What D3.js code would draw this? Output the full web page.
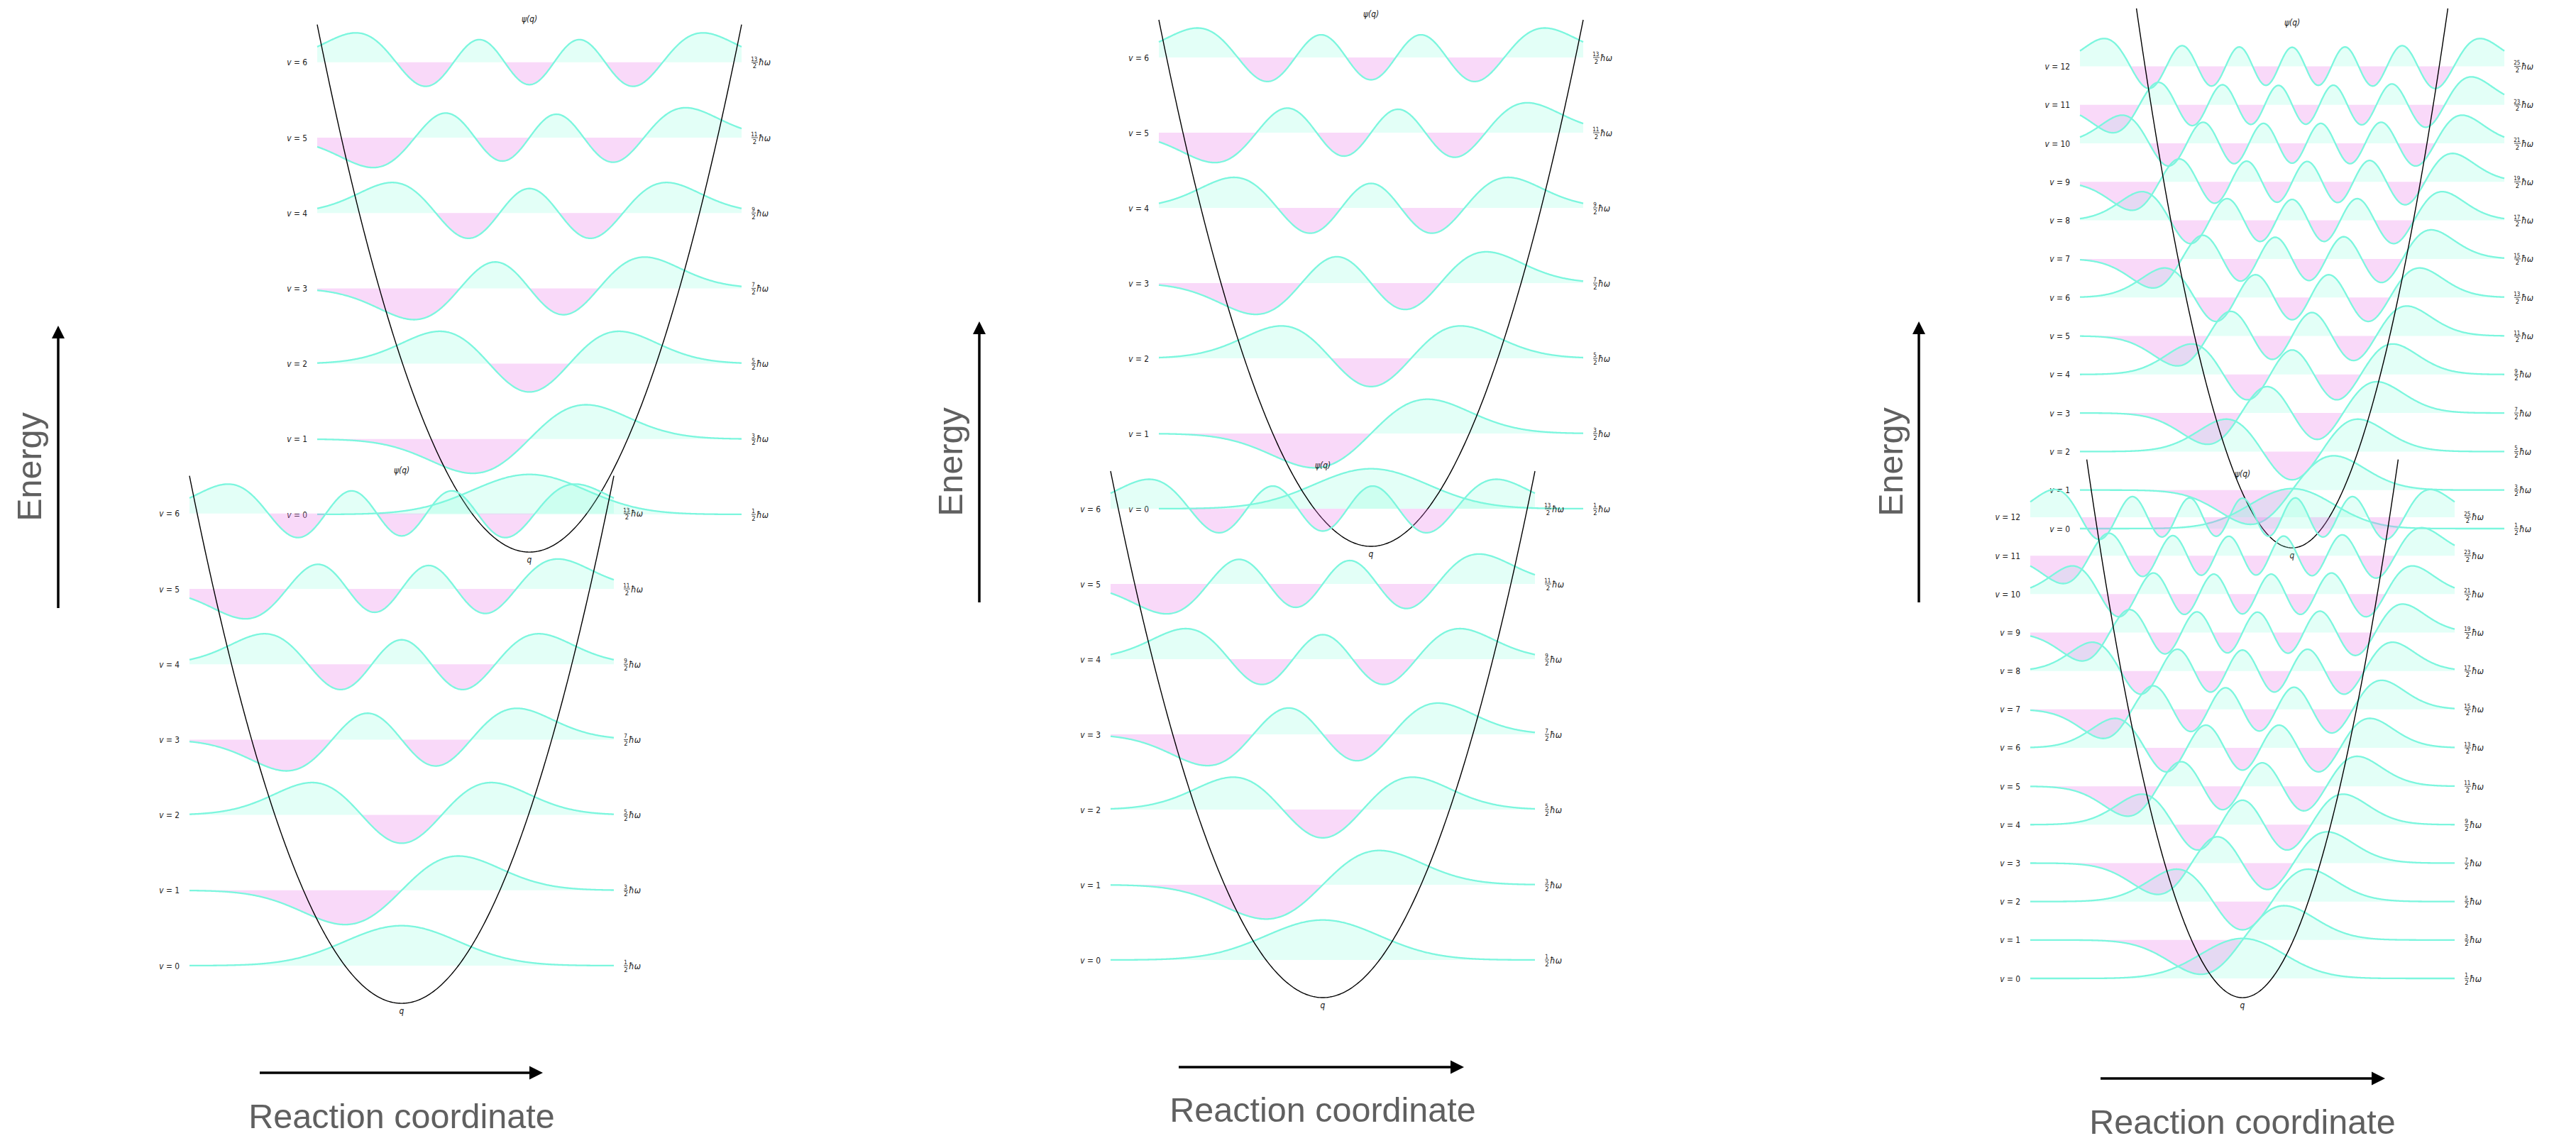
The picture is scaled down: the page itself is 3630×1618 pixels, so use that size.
<!DOCTYPE html>
<html><head><meta charset="utf-8">
<script src="https://cdn.jsdelivr.net/npm/d3@7"></script>
<style>html,body{margin:0;padding:0;background:#fff;} svg{display:block;}</style>
</head><body>
<svg id="chart" width="3630" height="1618"></svg>
<script>
// ---------------- data ----------------
const levelsSmall = [0, 1, 2, 3, 4, 5, 6];
const levelsLarge = [0, 1, 2, 3, 4, 5, 6, 7, 8, 9, 10, 11, 12];
const energyNumeratorsSmall = [1, 3, 5, 7, 9, 11, 13];
const energyNumeratorsLarge = [1, 3, 5, 7, 9, 11, 13, 15, 17, 19, 21, 23, 25];
const energyDenominator = "2";
const energyUnit = "ħω";
const levelPrefix = "v";
const plotTitle = "ψ(q)";
const coordLabel = "q";
const energyAxisLabel = "Energy";
const reactionAxisLabel = "Reaction coordinate";
const potentialQRange = [-Math.sqrt(14), Math.sqrt(14)];

// ---------------- layout (positions / sizes) ----------------
const subplots = [
  {levels: levelsSmall, nums: energyNumeratorsSmall, cx: 746,  y0: 725,  dy: 106.2, potK: 0.5},
  {levels: levelsSmall, nums: energyNumeratorsSmall, cx: 566,  y0: 1361, dy: 106.2, potK: 0.5},
  {levels: levelsSmall, nums: energyNumeratorsSmall, cx: 1932, y0: 717,  dy: 106.0, potK: 0.5},
  {levels: levelsSmall, nums: energyNumeratorsSmall, cx: 1864, y0: 1353, dy: 106.0, potK: 0.5},
  {levels: levelsLarge, nums: energyNumeratorsLarge, cx: 3230, y0: 745,  dy: 54.3,  potK: 1.0},
  {levels: levelsLarge, nums: energyNumeratorsLarge, cx: 3160, y0: 1379, dy: 54.17, potK: 1.0}
];
const panelAxes = [
  {ex: 82,   eTop: 459, eBot: 857, eText: 58,   rx0: 366,  rx1: 765,  ry: 1512, rText: 1590, rcx: 566},
  {ex: 1380, eTop: 453, eBot: 849, eText: 1356, rx0: 1661, rx1: 2063, ry: 1504, rText: 1581, rcx: 1864},
  {ex: 2704, eTop: 453, eBot: 849, eText: 2681, rx0: 2960, rx1: 3361, ry: 1520, rText: 1598, rcx: 3160}
];
const HALF_W = 299;      // px half width of q range
const AMP = 75;          // px per unit psi
const LINE = "#7cf6de";
const FILL_POS = "rgba(127,255,220,0.22)";
const FILL_NEG = "rgba(235,120,235,0.28)";
const TEXT_FONT = "'DejaVu Sans', sans-serif";

const svg = d3.select("#chart");
svg.append("rect").attr("width", 3630).attr("height", 1618).attr("fill", "#fff");

// Hermite functions (normalized harmonic oscillator eigenfunctions)
function psiAll(vmax, q) {
  const out = new Array(vmax + 1);
  out[0] = Math.pow(Math.PI, -0.25) * Math.exp(-q * q / 2);
  if (vmax >= 1) out[1] = Math.SQRT2 * q * out[0];
  for (let n = 1; n < vmax; n++) {
    out[n + 1] = Math.sqrt(2 / (n + 1)) * q * out[n] - Math.sqrt(n / (n + 1)) * out[n - 1];
  }
  return out;
}

function drawSubplot(sp) {
  const vmax = d3.max(sp.levels);
  const qmax = Math.sqrt(2 * (vmax + 1));
  const x = d3.scaleLinear().domain([-qmax, qmax]).range([sp.cx - HALF_W, sp.cx + HALF_W]);
  const y = d3.scaleLinear().domain([0.5, vmax + 0.5]).range([sp.y0, sp.y0 - vmax * sp.dy]);
  const amp = d3.scaleLinear().domain([0, 1]).range([0, AMP]);
  const qs = d3.range(0, 601).map(i => -qmax + 2 * qmax * i / 600);
  const table = qs.map(q => ({q, psi: psiAll(vmax, q)}));
  const g = svg.append("g");

  sp.levels.forEach(v => {
    const base = y(v + 0.5);
    const areaPos = d3.area().x(d => x(d.q)).y0(base).y1(d => base - amp(Math.max(d.psi[v], 0)));
    const areaNeg = d3.area().x(d => x(d.q)).y0(base).y1(d => base - amp(Math.min(d.psi[v], 0)));
    g.append("path").attr("d", areaPos(table)).attr("fill", FILL_POS);
    g.append("path").attr("d", areaNeg(table)).attr("fill", FILL_NEG);
  });
  sp.levels.forEach(v => {
    const base = y(v + 0.5);
    const line = d3.line().x(d => x(d.q)).y(d => base - amp(d.psi[v])).curve(d3.curveLinear);
    g.append("path").attr("d", line(table)).attr("fill", "none")
      .attr("stroke", LINE).attr("stroke-width", 2.3).attr("stroke-linejoin", "round");
  });

  // potential
  const pq = d3.range(0, 301).map(i => potentialQRange[0] + (potentialQRange[1] - potentialQRange[0]) * i / 300);
  const pot = d3.line().x(q => x(q)).y(q => y(sp.potK * q * q));
  g.append("path").attr("d", pot(pq)).attr("fill", "none").attr("stroke", "#000").attr("stroke-width", 1.4);

  // level labels
  sp.levels.forEach((v, i) => {
    const base = y(v + 0.5);
    const t = g.append("text")
      .attr("transform", `translate(${x(-qmax) - 14},${base + 4.5}) scale(0.82,1)`)
      .attr("text-anchor", "end").attr("font-family", TEXT_FONT).attr("font-size", 13).attr("fill", "#1a1a1a");
    t.append("tspan").attr("font-style", "italic").text(levelPrefix);
    t.append("tspan").text(" = " + v);

    const num = String(sp.nums[i]);
    const fx = x(qmax) + 14;
    const fw = num.length > 1 ? 9 : 6;
    const fg = g.append("g").attr("transform", `translate(${fx},${base})`);
    fg.append("text").attr("x", fw / 2).attr("y", -2).attr("text-anchor", "middle")
      .attr("font-family", TEXT_FONT).attr("font-size", 8.5).attr("fill", "#1a1a1a")
      .attr("transform", "scale(0.85,1)").text(num);
    fg.append("line").attr("x1", 0).attr("x2", fw).attr("y1", 0).attr("y2", 0)
      .attr("stroke", "#1a1a1a").attr("stroke-width", 0.8);
    fg.append("text").attr("x", fw / 2).attr("y", 8.5).attr("text-anchor", "middle")
      .attr("font-family", TEXT_FONT).attr("font-size", 8.5).attr("fill", "#1a1a1a").text(energyDenominator);
    fg.append("text").attr("transform", `translate(${fw + 1},4.5) scale(0.85,1)`)
      .attr("font-family", TEXT_FONT).attr("font-size", 13).attr("font-style", "italic")
      .attr("fill", "#1a1a1a").text(energyUnit);
  });

  // title and q label
  g.append("text").attr("transform", `translate(${sp.cx},${y(vmax + 0.5) - 57}) scale(0.82,1)`)
    .attr("text-anchor", "middle").attr("font-family", TEXT_FONT).attr("font-size", 13)
    .attr("font-style", "italic").attr("fill", "#1a1a1a").text(plotTitle);
  g.append("text").attr("transform", `translate(${sp.cx},${y(0) + 15}) scale(0.82,1)`)
    .attr("text-anchor", "middle").attr("font-family", TEXT_FONT).attr("font-size", 13)
    .attr("font-style", "italic").attr("fill", "#1a1a1a").text(coordLabel);
}

subplots.forEach(drawSubplot);

// big axis arrows and labels
const BIG_FONT = "'Liberation Sans', Arial, Helvetica, sans-serif";
panelAxes.forEach(p => {
  const g = svg.append("g");
  // energy arrow
  g.append("line").attr("x1", p.ex).attr("x2", p.ex).attr("y1", p.eBot).attr("y2", p.eTop + 16)
    .attr("stroke", "#000").attr("stroke-width", 3.5);
  g.append("path").attr("d", `M${p.ex},${p.eTop} L${p.ex - 9},${p.eTop + 18} L${p.ex + 9},${p.eTop + 18} Z`)
    .attr("fill", "#000");
  g.append("text").attr("transform", `translate(${p.eText},${(p.eTop + p.eBot) / 2}) rotate(-90)`)
    .attr("text-anchor", "middle").attr("font-family", BIG_FONT).attr("font-size", 48.5)
    .attr("fill", "#606060").text(energyAxisLabel);
  // reaction coordinate arrow
  g.append("line").attr("x1", p.rx0).attr("x2", p.rx1 - 16).attr("y1", p.ry).attr("y2", p.ry)
    .attr("stroke", "#000").attr("stroke-width", 3.5);
  g.append("path").attr("d", `M${p.rx1},${p.ry} L${p.rx1 - 19},${p.ry - 9.5} L${p.rx1 - 19},${p.ry + 9.5} Z`)
    .attr("fill", "#000");
  g.append("text").attr("x", p.rcx).attr("y", p.rText).attr("text-anchor", "middle")
    .attr("font-family", BIG_FONT).attr("font-size", 48.5).attr("fill", "#606060").text(reactionAxisLabel);
});
</script>
</body></html>
